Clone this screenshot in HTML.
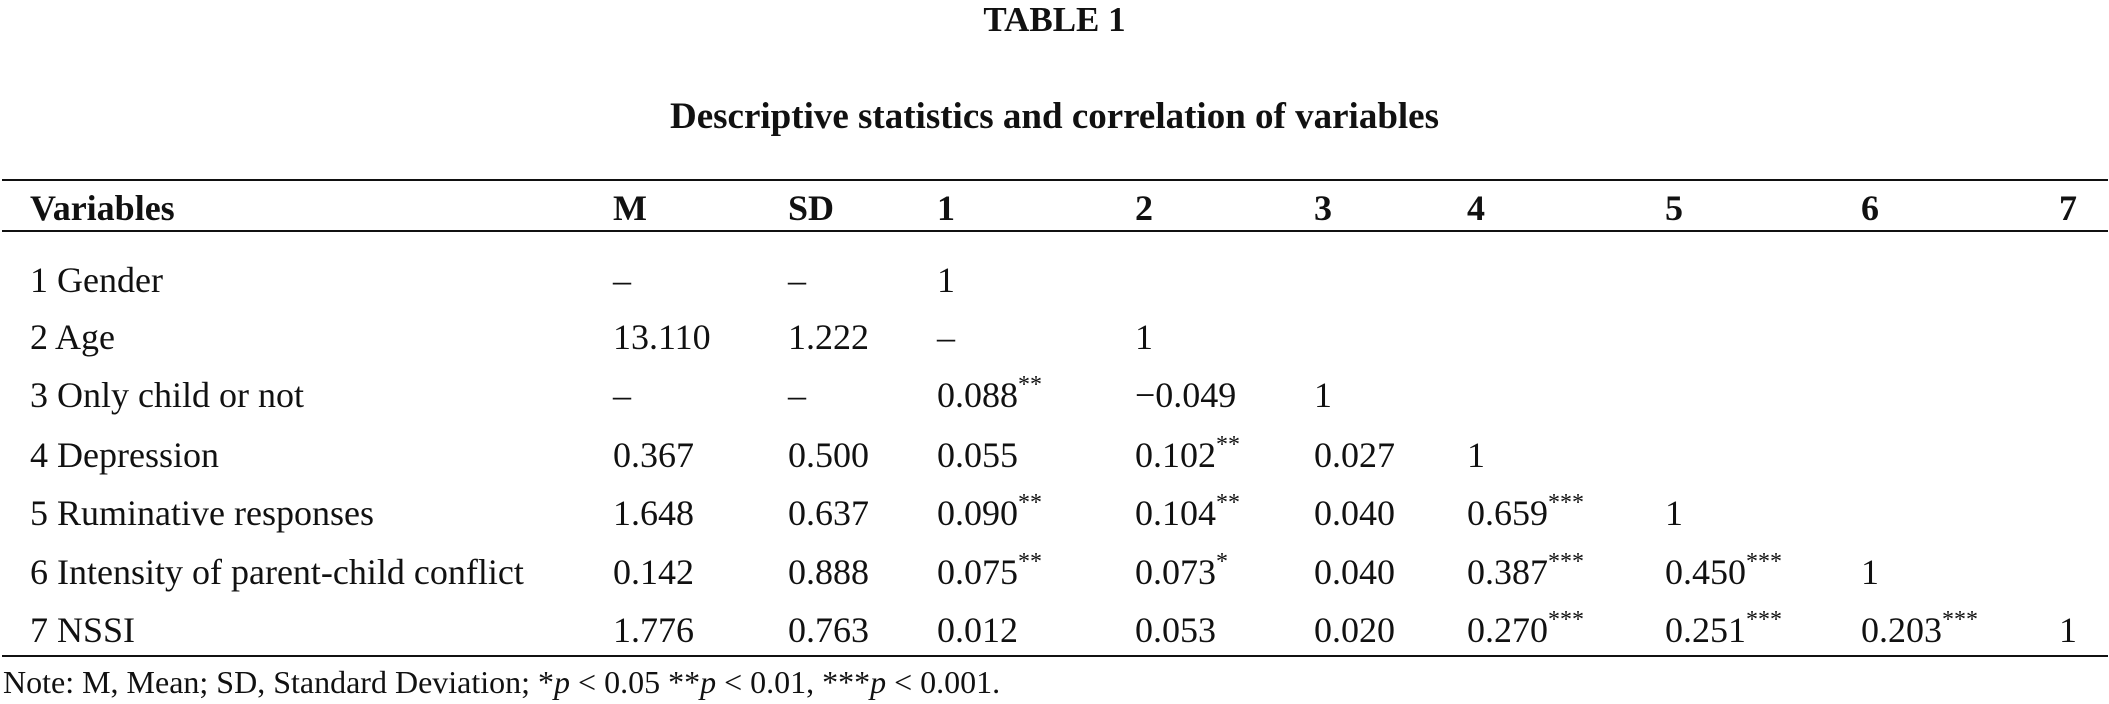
<!DOCTYPE html>
<html><head><meta charset="utf-8"><style>
body{margin:0;width:2109px;height:704px;background:#fff;position:relative;overflow:hidden;font-family:"Liberation Serif",serif;color:#111}
.t{position:absolute;font-size:36px;line-height:44px;white-space:nowrap}
.b{font-weight:bold}
.rule{position:absolute;left:2px;width:2106px;height:2px;background:#111}
sup{font-size:24px;vertical-align:top;line-height:24px}
</style></head><body>
<div class="t b" style="left:0;width:2109px;text-align:center;top:-2px;font-size:35px">TABLE 1</div>
<div class="t b" style="left:0;width:2109px;text-align:center;top:95px;font-size:37px">Descriptive statistics and correlation of variables</div>
<div class="rule" style="top:179px"></div>
<div class="rule" style="top:230px"></div>
<div class="rule" style="top:655px"></div>
<div id="tbl"></div>
<div class="t" style="left:3px;top:660px;font-size:32px">Note: M, Mean; SD, Standard Deviation; *<i>p</i> &lt; 0.05 **<i>p</i> &lt; 0.01, ***<i>p</i> &lt; 0.001.</div>
<script>
const headers=["Variables","M","SD","1","2","3","4","5","6","7"];
const rows=[
["1 Gender","–","–","1","","","","","",""],
["2 Age","13.110","1.222","–","1","","","","",""],
["3 Only child or not","–","–","0.088**","−0.049","1","","","",""],
["4 Depression","0.367","0.500","0.055","0.102**","0.027","1","","",""],
["5 Ruminative responses","1.648","0.637","0.090**","0.104**","0.040","0.659***","1","",""],
["6 Intensity of parent-child conflict","0.142","0.888","0.075**","0.073*","0.040","0.387***","0.450***","1",""],
["7 NSSI","1.776","0.763","0.012","0.053","0.020","0.270***","0.251***","0.203***","1"]];
const colX=[30,613,788,937,1135,1314,1467,1665,1861,2059];
const rowY=[280,337,395,455,513,572,630];
const root=document.getElementById('tbl');
function fmt(s){const m=s.match(/^(.*?)(\*+)$/);return m?m[1]+'<sup>'+m[2]+'</sup>':s;}
headers.forEach((h,i)=>{const d=document.createElement('div');d.className='t b';d.style.left=colX[i]+'px';d.style.top=(208-22)+'px';d.textContent=h;


root.appendChild(d);});
rows.forEach((r,ri)=>r.forEach((c,ci)=>{if(!c)return;const d=document.createElement('div');d.className='t';d.style.left=colX[ci]+'px';d.style.top=(rowY[ri]-22)+'px';d.innerHTML=fmt(c);


root.appendChild(d);}));
</script>
</body></html>
